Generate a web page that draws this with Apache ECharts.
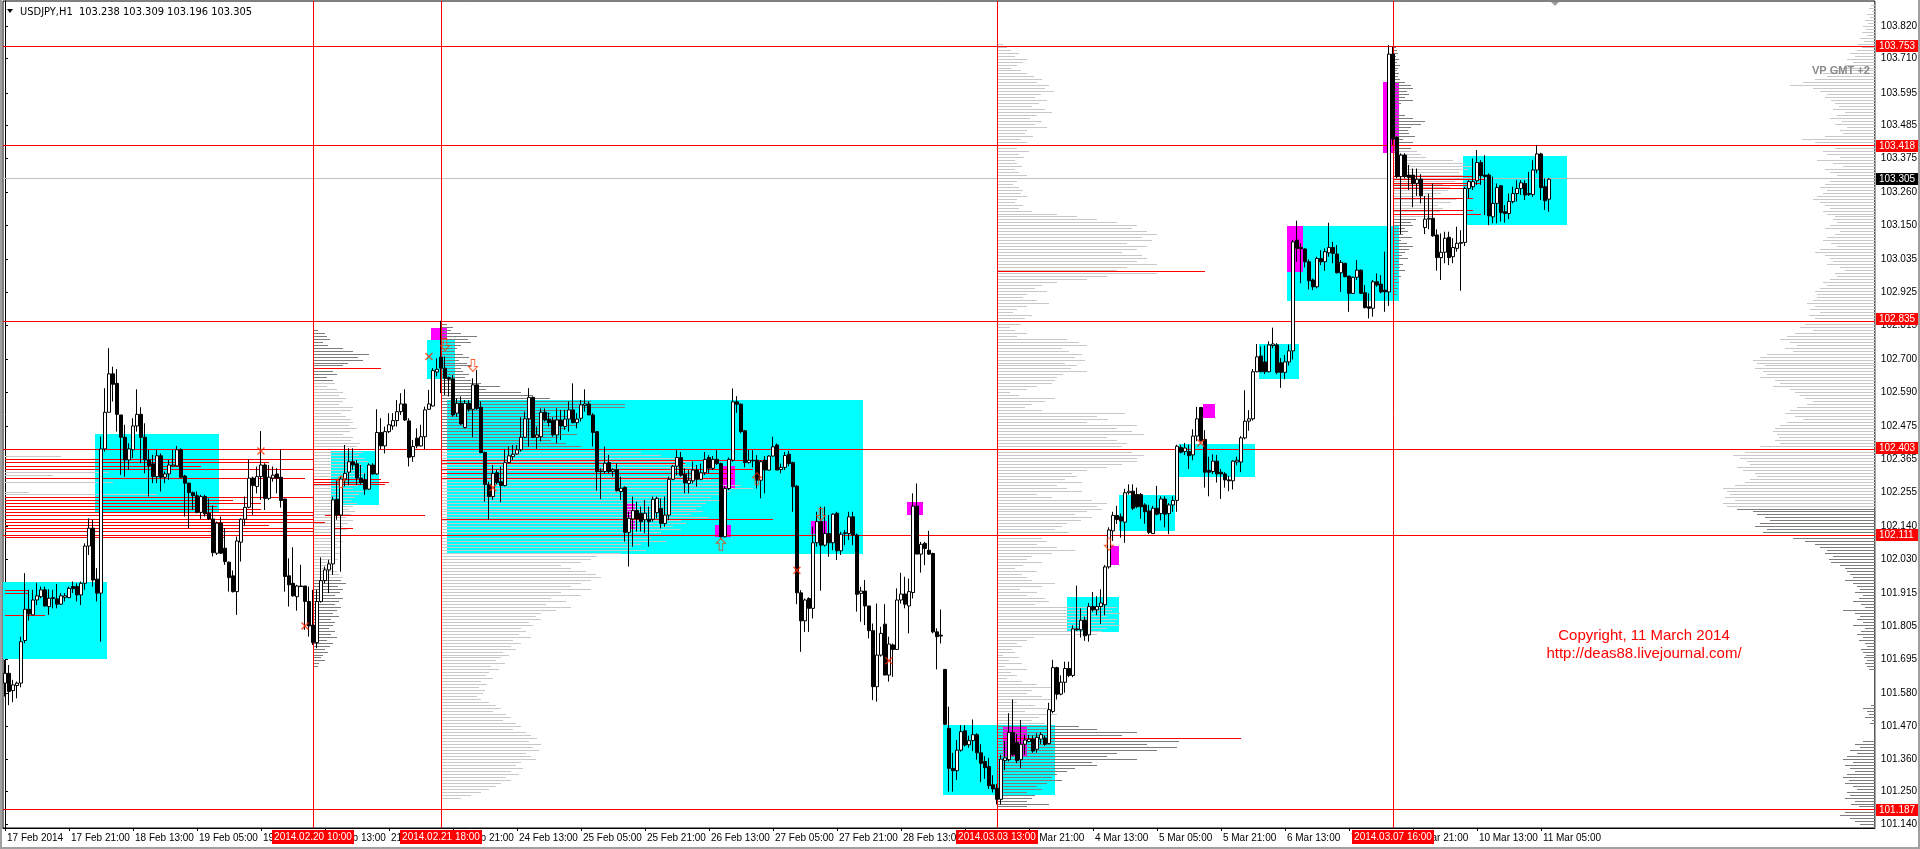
<!DOCTYPE html>
<html><head><meta charset="utf-8">
<script src="https://cdn.jsdelivr.net/npm/echarts@6/dist/echarts.min.js"></script>
<style>html,body{margin:0;padding:0;background:#fff;overflow:hidden}#c{width:1920px;height:849px}</style>
</head><body><div id="c"></div>
<script>
// ---------------- DATA ----------------
const symbolName = 'USDJPY,H1';
const lastOHLC = [103.238, 103.309, 103.196, 103.305];
const copyrightLines = ['Copyright, 11 March 2014', 'http://deas88.livejournal.com/'];
const vpCaption = 'VP GMT +2';
// trading weeks: [first bar time (GMT+2), number of H1 bars]
const weeks = [['2014-02-17T05:00', 115], ['2014-02-24T00:00', 120], ['2014-03-03T00:00', 120], ['2014-03-10T00:00', 32]];
const yTickValues = [103.820, 103.710, 103.595, 103.485, 103.375, 103.260, 103.150, 103.035, 102.925, 102.815, 102.700, 102.590, 102.475, 102.365, 102.255, 102.140, 102.030, 101.915, 101.805, 101.695, 101.580, 101.470, 101.360, 101.250, 101.140];
const levelLines = [103.753, 103.418, 102.835, 102.403, 102.111, 101.187];
const currentPrice = 103.305;
const timeLines = [77, 109, 248, 347]; // bar indices of vertical lines

// bars: [open, high, low, close]
const segA = [
[101.614,101.692,101.569,101.647],[101.647,101.675,101.540,101.586],[101.589,101.625,101.550,101.608],[101.606,101.619,101.563,101.614],[101.614,101.770,101.600,101.753],
[101.757,101.983,101.748,101.862],[101.862,101.927,101.824,101.846],[101.843,101.927,101.843,101.893],[101.893,101.951,101.876,101.907],[101.904,101.938,101.899,101.927],
[101.927,101.938,101.871,101.873],[101.871,101.929,101.843,101.899],[101.898,101.927,101.865,101.901],[101.897,101.947,101.865,101.879],[101.879,101.916,101.876,101.907],
[101.902,101.916,101.888,101.907],[101.901,101.938,101.899,101.932],[101.938,101.955,101.916,101.931],[101.938,101.949,101.888,101.910],[101.910,101.955,101.876,101.949],
[101.949,102.083,101.927,102.074],[102.074,102.167,102.044,102.134],[102.134,102.162,101.938,101.960],[101.963,102.000,101.888,101.916],[101.916,102.441,101.753,102.400],
[102.400,102.604,102.391,102.523],[102.523,102.738,102.523,102.652],[102.652,102.676,102.559,102.617],[102.620,102.668,102.458,102.516],[102.514,102.514,102.313,102.439],
[102.439,102.481,102.307,102.363],[102.363,102.419,102.330,102.400],[102.397,102.503,102.369,102.477],[102.477,102.600,102.458,102.516],[102.516,102.540,102.352,102.439],
[102.439,102.486,102.318,102.363],[102.363,102.397,102.240,102.343],[102.350,102.380,102.285,102.307],[102.307,102.397,102.285,102.377],[102.377,102.385,102.257,102.305],
[102.305,102.324,102.285,102.316],[102.316,102.363,102.296,102.346],[102.343,102.397,102.341,102.346],[102.343,102.410,102.341,102.397],[102.397,102.402,102.302,102.305],
[102.309,102.313,102.173,102.285],[102.285,102.287,102.134,102.253],[102.253,102.257,102.195,102.243],[102.243,102.257,102.184,102.187],[102.187,102.246,102.165,102.240],
[102.240,102.246,102.173,102.182],[102.184,102.234,102.162,102.165],[102.165,102.210,102.039,102.052],[102.050,102.156,102.044,102.151],[102.151,102.173,102.048,102.050],
[102.067,102.134,102.011,102.022],[102.020,102.022,101.921,101.968],[101.974,101.992,101.918,101.921],[101.921,102.106,101.843,102.091],[102.087,102.167,102.022,102.164],
[102.164,102.240,102.143,102.204],[102.204,102.365,102.201,102.302],[102.302,102.307,102.179,102.277],[102.274,102.341,102.251,102.307],[102.307,102.460,102.229,102.346],
[102.346,102.352,102.195,102.234],[102.234,102.346,102.229,102.305],[102.302,102.341,102.290,102.312],[102.316,102.335,102.251,102.302],[102.305,102.399,102.203,102.227],
[102.232,102.232,101.921,101.972],[101.974,102.033,101.871,101.944],[101.949,102.070,101.904,101.907],[101.904,101.944,101.857,101.940],[101.940,102.011,101.938,101.938],
[101.940,101.940,101.793,101.888],[101.888,101.938,101.770,101.806],[101.809,101.927,101.742,101.750],[101.750,101.927,101.731,101.888],[101.888,102.036,101.884,101.958],
[101.958,102.005,101.949,101.994],[101.994,102.028,101.916,102.014]];
const segB = [
[102.014,102.240,101.977,102.229],[102.231,102.296,102.162,102.178],[102.178,102.307,101.988,102.299],[102.299,102.413,102.274,102.318],[102.322,102.402,102.279,102.357],
[102.357,102.402,102.330,102.346],[102.350,102.363,102.279,102.302],[102.302,102.346,102.281,102.287],[102.296,102.318,102.246,102.265],[102.265,102.352,102.262,102.346],
[102.346,102.352,102.313,102.316],[102.316,102.533,102.313,102.455],[102.455,102.503,102.399,102.410],[102.410,102.475,102.385,102.458],[102.458,102.520,102.453,102.481],
[102.477,102.520,102.464,102.495],[102.495,102.564,102.475,102.525],[102.525,102.587,102.514,102.551],[102.551,102.600,102.494,102.497],[102.494,102.503,102.341,102.372],
[102.374,102.430,102.357,102.408],[102.436,102.469,102.402,102.410],[102.410,102.481,102.408,102.441],[102.441,102.542,102.399,102.531],[102.533,102.598,102.531,102.551],
[102.544,102.671,102.542,102.663],[102.658,102.704,102.643,102.667],[102.708,102.830,102.587,102.671],[102.671,102.710,102.581,102.637],[102.639,102.643,102.576,102.634],
[102.635,102.648,102.508,102.514],[102.520,102.570,102.508,102.553],[102.553,102.576,102.481,102.484],[102.472,102.564,102.469,102.553],[102.553,102.564,102.525,102.533],
[102.533,102.637,102.439,102.615],[102.615,102.665,102.531,102.536],[102.540,102.559,102.385,102.388],[102.388,102.391,102.223,102.281],[102.281,102.290,102.162,102.240],
[102.240,102.346,102.229,102.318],[102.320,102.330,102.281,102.287],[102.290,102.341,102.221,102.277],[102.277,102.397,102.274,102.354],[102.354,102.408,102.352,102.377],
[102.374,102.413,102.363,102.382],[102.383,102.413,102.380,102.397],[102.397,102.506,102.391,102.439],[102.439,102.525,102.436,102.501],[102.501,102.604,102.408,102.573],
[102.573,102.576,102.436,102.439],[102.439,102.475,102.399,102.447],[102.441,102.536,102.425,102.523],[102.523,102.536,102.492,102.497],[102.500,102.522,102.475,102.489],
[102.495,102.506,102.441,102.447],[102.447,102.536,102.419,102.497],[102.497,102.531,102.430,102.477],[102.475,102.531,102.464,102.500],[102.500,102.559,102.458,102.531],
[102.531,102.620,102.486,102.488],[102.488,102.520,102.469,102.500],[102.503,102.564,102.492,102.548],[102.546,102.600,102.525,102.551],[102.551,102.559,102.514,102.514],
[102.514,102.520,102.408,102.455],[102.458,102.458,102.260,102.324],[102.326,102.335,102.231,102.324],[102.324,102.408,102.318,102.352],[102.354,102.380,102.318,102.324],
[102.324,102.335,102.307,102.330],[102.330,102.352,102.257,102.260],[102.257,102.307,102.229,102.268],[102.271,102.274,102.089,102.120],[102.120,102.190,102.005,102.167],
[102.165,102.240,102.072,102.193],[102.193,102.223,102.123,102.165],[102.184,102.206,102.123,102.156],[102.162,102.229,102.117,102.184]];
const segC = [
[102.164,102.206,102.072,102.156],[102.164,102.240,102.156,102.231],[102.186,102.240,102.167,102.234],[102.200,102.234,102.133,102.150],[102.150,102.240,102.139,102.178],
[102.178,102.307,102.161,102.298],[102.298,102.346,102.295,102.342],[102.342,102.396,102.312,102.371],[102.371,102.390,102.307,102.312],[102.315,102.335,102.251,102.286],
[102.284,102.329,102.251,102.295],[102.293,102.357,102.284,102.329],[102.329,102.346,102.273,102.298],[102.298,102.351,102.295,102.320],[102.320,102.390,102.312,102.365],
[102.371,102.379,102.318,102.335],[102.335,102.376,102.329,102.365],[102.365,102.396,102.346,102.351],[102.351,102.354,102.103,102.105],[102.105,102.275,102.103,102.267],
[102.267,102.371,102.262,102.365],[102.362,102.603,102.357,102.558],[102.558,102.577,102.521,102.550],[102.550,102.553,102.452,102.458],[102.461,102.463,102.338,102.354],
[102.354,102.396,102.351,102.362],[102.360,102.396,102.338,102.362],[102.362,102.379,102.267,102.295],[102.295,102.362,102.234,102.357],[102.362,102.376,102.251,102.329],
[102.329,102.379,102.327,102.376],[102.376,102.441,102.374,102.407],[102.413,102.418,102.329,102.329],[102.331,102.351,102.318,102.338],[102.338,102.390,102.329,102.378],
[102.382,102.394,102.342,102.351],[102.354,102.357,102.189,102.273],[102.275,102.279,101.879,101.917],[101.917,101.926,101.719,101.823],[101.823,101.898,101.786,101.893],
[101.898,101.902,101.786,101.865],[101.865,102.139,101.831,102.085],[102.085,102.189,102.072,102.156],[102.156,102.206,101.924,102.077],[102.077,102.206,102.072,102.116],
[102.116,102.178,102.038,102.085],[102.085,102.184,102.060,102.181],[102.184,102.189,102.027,102.058],[102.058,102.122,102.044,102.114],[102.116,102.128,102.077,102.119],
[102.116,102.189,102.094,102.172],[102.172,102.189,102.077,102.111],[102.111,102.116,101.854,101.912],[101.915,101.937,101.820,101.923],[101.923,101.960,101.809,101.873],
[101.873,101.873,101.764,101.790],[101.790,101.814,101.557,101.602],[101.602,101.881,101.552,101.708],[101.708,101.803,101.703,101.781],[101.812,101.879,101.641,101.641],
[101.641,101.770,101.619,101.745],[101.742,101.747,101.635,101.727],[101.727,101.932,101.727,101.893],[101.893,101.984,101.881,101.913],[101.913,101.971,101.865,101.879],
[101.873,101.965,101.781,101.921],[101.918,102.251,101.898,102.208],[102.208,102.284,102.047,102.047],[102.047,102.088,101.985,102.080],[102.083,102.088,102.010,102.066],
[102.060,102.125,102.044,102.047],[102.049,102.052,101.781,101.786],[101.786,101.798,101.660,101.770],[101.775,101.861,101.747,101.772],[101.660,101.660,101.473,101.476],
[101.462,101.535,101.250,101.328],[101.328,101.380,101.250,101.320],[101.320,101.423,101.289,101.389],[101.389,101.473,101.384,101.451],[101.454,101.473,101.401,101.406]];
const segD = [
[101.407,101.438,101.397,101.421],[101.421,101.492,101.386,101.441],[101.441,101.446,101.357,101.380],[101.380,101.409,101.282,101.345],[101.351,101.369,101.293,101.330],
[101.334,101.363,101.259,101.270],[101.273,101.305,101.247,101.259],[101.261,101.276,101.207,101.224],[101.224,101.374,101.207,101.359],[101.354,101.420,101.322,101.363],
[101.357,101.513,101.351,101.449],[101.449,101.559,101.369,101.374],[101.415,101.444,101.345,101.354],[101.357,101.490,101.328,101.409],[101.409,101.441,101.374,101.423],
[101.418,101.441,101.415,101.426],[101.426,101.438,101.380,101.386],[101.392,101.446,101.380,101.432],[101.426,101.449,101.409,101.441],[101.430,101.438,101.403,101.409],
[101.411,101.548,101.409,101.525],[101.519,101.692,101.513,101.666],[101.666,101.669,101.559,101.577],[101.577,101.640,101.573,101.617],[101.617,101.686,101.582,101.663],
[101.663,101.686,101.634,101.640],[101.640,101.808,101.634,101.796],[101.796,101.941,101.790,101.793],[101.793,101.865,101.767,101.825],[101.825,101.837,101.756,101.773],
[101.776,101.883,101.753,101.871],[101.871,101.920,101.854,101.860],[101.860,101.906,101.842,101.871],[101.871,101.929,101.813,101.883],[101.877,102.010,101.842,102.004],
[102.004,102.137,101.998,102.128],[102.125,102.189,102.091,102.177],[102.177,102.209,102.148,102.163],[102.172,102.183,102.102,102.158],[102.154,102.266,102.085,102.253],
[102.253,102.281,102.247,102.258],[102.258,102.281,102.195,102.201],[102.247,102.270,102.201,102.206],[102.247,102.252,102.166,102.206],[102.212,102.218,102.149,102.189],
[102.192,102.212,102.114,102.120],[102.116,102.209,102.114,102.201],[102.201,102.276,102.177,102.181],[102.183,102.241,102.160,102.232],[102.232,102.241,102.137,102.181],
[102.183,102.218,102.114,102.212],[102.212,102.241,102.189,102.227],[102.227,102.414,102.189,102.409],[102.405,102.414,102.385,102.389],[102.391,102.420,102.380,102.403],
[102.391,102.414,102.333,102.377],[102.380,102.466,102.362,102.443],[102.443,102.541,102.426,102.501],[102.539,102.541,102.424,102.428],[102.432,102.463,102.270,102.322],
[102.328,102.374,102.241,102.322],[102.324,102.382,102.316,102.359],[102.359,102.380,102.287,102.316],[102.322,102.333,102.232,102.316],[102.316,102.322,102.270,102.296],
[102.296,102.310,102.258,102.293],[102.293,102.362,102.264,102.359],[102.356,102.374,102.345,102.362],[102.356,102.443,102.322,102.437],[102.437,102.597,102.432,102.493],
[102.493,102.530,102.461,102.501],[102.501,102.668,102.495,102.659],[102.659,102.752,102.657,102.709],[102.712,102.744,102.657,102.659],[102.692,102.747,102.651,102.659],
[102.659,102.761,102.657,102.749],[102.747,102.807,102.738,102.752],[102.749,102.755,102.651,102.657],[102.689,102.705,102.605,102.657],[102.657,102.715,102.634,102.692],
[102.692,102.750,102.680,102.729]];
const segE = [
[102.729,103.101,102.700,103.095],[103.101,103.166,103.028,103.073],[103.076,103.090,102.956,103.072],[103.071,103.073,103.009,103.028],[103.028,103.036,102.935,102.964],
[102.967,102.972,102.933,102.944],[102.944,103.045,102.939,103.039],[103.039,103.067,103.017,103.028],[103.028,103.073,102.998,103.062],[103.058,103.159,103.045,103.076],
[103.076,103.095,103.023,103.056],[103.054,103.084,102.989,102.991],[102.991,103.034,102.927,103.026],[103.023,103.023,102.976,102.978],[102.980,102.980,102.860,102.922],
[102.922,102.978,102.920,102.976],[102.976,103.034,102.967,103.000],[103.000,103.002,102.920,102.922],[102.924,102.950,102.872,102.874],[102.877,102.922,102.838,102.872],
[102.872,102.967,102.844,102.961],[102.961,102.989,102.944,102.950],[102.953,102.983,102.922,102.927],[102.933,103.062,102.860,102.927],[102.927,103.755,102.880,103.725],
[103.725,103.750,103.420,103.440],[103.446,103.448,103.308,103.314],[103.314,103.392,103.121,103.386],[103.386,103.392,103.308,103.314],[103.319,103.353,103.269,103.311],
[103.319,103.341,103.211,103.291],[103.291,103.341,103.249,103.305],[103.305,103.322,103.224,103.250],[103.143,103.249,103.121,103.171],[103.171,103.257,103.137,103.174],
[103.174,103.291,103.112,103.115],[103.118,103.137,102.998,103.042],[103.042,103.123,102.967,103.060],[103.060,103.129,103.023,103.107],[103.110,103.129,103.017,103.042],
[103.045,103.107,103.023,103.076],[103.073,103.146,103.062,103.090],[103.090,103.134,102.931,103.093],[103.093,103.280,103.081,103.274],[103.274,103.302,103.241,103.297],
[103.280,103.375,103.269,103.297],[103.300,103.403,103.286,103.361],[103.361,103.369,103.286,103.317],[103.319,103.386,103.185,103.314],[103.319,103.325,103.151,103.182],
[103.179,103.314,103.157,103.224],[103.224,103.291,103.157,103.277],[103.283,103.286,103.163,103.193],[103.196,103.218,103.159,103.190],[103.190,103.257,103.171,103.230],
[103.230,103.280,103.224,103.257],[103.257,103.302,103.230,103.274],[103.274,103.302,103.252,103.293],[103.291,103.302,103.235,103.252],[103.254,103.330,103.249,103.257],
[103.254,103.369,103.246,103.336],[103.336,103.420,103.325,103.390],[103.390,103.394,103.235,103.277],[103.280,103.308,103.202,103.233],[103.238,103.309,103.196,103.305]];

// rectangles: [fromBar, toBar, lowPrice, highPrice]
const cyanBoxes = [[0,25,101.695,101.955],[23,53,102.187,102.450],[82,93,102.212,102.393],[106,112,102.635,102.766],[111,214,102.049,102.564],[235,262,101.238,101.473],[266,278,101.787,101.904],[279,292,102.125,102.247],[294,312,102.307,102.417],[314,323,102.636,102.752],[321,348,102.897,103.148],[365,390,103.151,103.383]];
const magentaBoxes = [[107,110,102.766,102.805],[155,157,102.128,102.215],[180,182,102.267,102.342],[178,181,102.103,102.144],[202,205,102.114,102.159],[226,229,102.178,102.223],[250,255,101.369,101.467],[276,278,102.010,102.073],[300,302,102.504,102.551],[321,324,102.995,103.148],[345,348,103.392,103.632]];

// red level segments: [fromBar, toBar, price]
const redSegments = [[0,77,102.365],[0,66,102.355],[0,49,102.343],[0,77,102.332],[0,75,102.301],[0,77,102.238],[0,57,102.228],[0,64,102.218],[0,53,102.209],[0,64,102.197],[0,77,102.187],[0,77,102.177],[0,77,102.166],[0,80,102.155],[0,66,102.144],[0,77,102.133],[0,77,102.123],[0,55,102.106],[0,6,101.927],[0,6,101.916],[0,10,101.843],
[77,94,102.671],[77,94,102.299],[77,96,102.290],[77,95,102.283],[80,105,102.178],[82,87,102.134],
[109,190,102.363],[109,170,102.352],[109,187,102.332],[109,182,102.318],[109,182,102.301],[109,192,102.164],
[248,300,102.997],[248,309,101.429],
[347,367,103.316],[347,370,103.305],[347,369,103.294],[347,367,103.285],[347,365,103.274],[347,367,103.241],[347,367,103.202],[347,369,103.188]];
const graySegments = [[0,14,102.377],[0,26,102.321],[0,12,102.313],[0,27,102.290],[0,6,102.257],[0,38,102.248]];

// volume profiles (volume per 0.01 price step, from top price downward)
const vp1Vols = [5,12,14,17,10,15,30,40,56,45,50,35,30,68,20,24,14,20,22,14,24,30,26,33,30,26,40,38,28,33,38,40,36,44,37,30,40,38,47,44,57,50,46,52,55,48,50,44,53,49,47,52,45,40,50,46,42,38,44,40,36,42,38,33,40,35,30,34,28,32,26,30,24,28,22,27,20,25,22,18,20,24,26,30,28,33,25,30,27,22,30,26,22,28,24,20,26,18,22,20,16,22,18,24,14,20,17,12,15,10,8,12,6,5];
const vp2Vols = [3,6,12,10,20,36,27,30,20,16,14,22,28,18,26,30,20,22,28,24,30,40,59,45,80,92,109,150,184,184,130,110,132,120,115,136,125,120,136,118,110,125,140,180,200,220,240,250,245,255,260,250,262,270,280,300,312,290,285,270,278,265,260,255,262,250,268,240,245,232,240,220,230,210,225,200,190,205,180,156,150,140,120,130,145,155,160,150,140,130,150,120,140,110,125,105,130,115,100,95,100,88,92,80,85,78,90,72,80,70,75,62,68,60,55,64,50,58,48,45,52,40,46,38,44,42,36,40,48,55,60,52,65,70,62,75,80,72,85,90,96,88,100,92,98,85,90,95,80,75,82,70,78,65,70,60,55,48,40,30,20];
const vp3Vols = [6,10,14,22,18,30,26,20,14,24,30,37,45,40,52,48,57,44,38,50,42,35,48,55,40,33,45,38,50,30,28,36,24,30,26,20,32,22,27,18,20,25,18,22,30,24,20,16,22,26,24,30,20,18,26,22,35,60,80,100,120,140,135,150,160,145,155,130,150,140,125,145,150,140,160,130,120,160,110,90,60,45,38,50,30,26,40,52,30,20,16,35,28,45,24,13,18,30,20,70,82,90,65,72,85,78,88,68,80,74,90,66,60,58,55,40,30,13,22,58,48,35,28,45,128,100,111,90,140,120,135,147,110,120,130,125,140,135,147,140,140,125,110,90,75,80,68,85,60,70,85,40,55,95,110,100,105,90,78,95,84,70,65,58,72,50,45,50,40,60,78,55,35,30,45,26,18,40,25,30,35,58,45,23,40,30,48,52,38,120,115,123,110,120,118,122,110,105,100,37,30,20,25,15,18,6,22,12,25,8,30,14,20,10,25,40,61,35,30,45,55,20,38,50,28,60,42,35,48,82,100,140,125,175,182,150,180,160,120,110,140,95,100,78,70,60,55,65,50,40,45,30,38,35,30,52,30,13];
const vp4Vols = [3,4,5,3,6,4,7,5,4,6,5,7,12,18,20,14,16,12,20,8,4,6,5,12,20,32,28,18,15,16,22,10,20,28,18,24,28,33,60,72,80,75,66,70,55,62,50,57,55,48,40,63,58,45,50,47,55,40,23,18,20,12,15,10,19,8,14,20,16,12,9,15,6,10,7,12,5,8,4,6,3,5,3,4];
const vpRightVols = [4,6,3,8,5,10,7,12,9,13,8,15,11,17,13,18,25,20,28,22,30,38,45,52,48,60,72,85,62,55,48,50,44,40,36,42,30,38,45,33,40,28,35,32,50,73,60,45,40,52,48,35,58,42,32,50,45,38,55,45,50,55,48,52,58,62,55,50,45,52,48,40,42,38,45,50,35,40,48,52,44,38,55,60,50,45,42,48,35,30,40,38,45,52,48,55,60,58,58,62,68,60,65,55,66,60,64,70,75,62,80,88,95,85,78,90,82,108,115,122,118,110,120,112,108,115,100,95,102,85,80,75,70,62,68,78,85,90,80,72,88,95,100,102,98,96,100,95,115,122,130,142,135,128,125,138,132,120,118,125,130,140,152,148,145,150,140,152,148,138,122,118,110,105,115,120,108,112,118,82,70,60,55,48,50,42,46,44,35,30,28,25,22,30,22,18,15,20,12,16,22,14,10,32,20,15,18,12,22,10,14,18,12,16,10,8,14,12,9,11,8,10,8,6,0,0,0,0,0,0,0,0,0,0,0,4,12,8,6,10,3,5,0,0,0,0,0,12,20,15,25,18,28,32,22,30,25,20,28,32,26,30,22,18,28,25,30,20,24,16,22,30,35,25,20,15,12];
// [anchor bar, top price, value-area low, value-area high, direction]
const vpAnchors = [[77,102.80,101.965,102.625,1],[109,102.83,101.0,102.405,1],[248,103.76,101.475,104.0,1],[347,103.75,103.175,103.405,1],[467.5,103.89,102.205,104.0,-1]];

// signal markers: [bar, price]
const crossMarks = [[64,102.393],[75,101.806],[106,102.71],[122,102.27],[198,101.993],[221,101.689],[299,102.42]];
const downArrows = [[110,102.75],[117,102.68],[204,102.18],[276,102.08]];
const upArrows = [[84,102.29],[179,102.08],[188,102.30]];

// ---------------- BUILD ----------------
const N_SLOTS = 468, LABEL_EVERY = 16, PRICE_STEP = 0.01, VOL_TO_BARS = 0.25;
const AXIS_FONT = "'Liberation Sans', Arial, sans-serif";
const TITLE_FONT = "'DejaVu Sans Condensed','Liberation Sans',sans-serif";
const bars = [].concat(segA, segB, segC, segD, segE);
const candleData = bars.map(b => [b[0], b[3], b[2], b[1]]);
const MON = ['Jan','Feb','Mar','Apr','May','Jun','Jul','Aug','Sep','Oct','Nov','Dec'];
const times = [];
weeks.forEach(([s, n]) => { const t0 = Date.parse(s + ':00Z'); for (let k = 0; k < n; k++) times.push(new Date(t0 + k * 3600000)); });
const p2 = n => String(n).padStart(2, '0');
function axisText(i) {
  const d = times[i]; if (!d) return '';
  if (i === 0) return d.getUTCDate() + ' ' + MON[d.getUTCMonth()] + ' ' + d.getUTCFullYear();
  return d.getUTCDate() + ' ' + MON[d.getUTCMonth()] + ' ' + p2(d.getUTCHours()) + ':00';
}
function fullText(i) {
  const d = times[i];
  return d.getUTCFullYear() + '.' + p2(d.getUTCMonth() + 1) + '.' + p2(d.getUTCDate()) + ' ' + p2(d.getUTCHours()) + ':' + p2(d.getUTCMinutes());
}
const cats = Array.from({length: N_SLOTS}, (_, i) => String(i));
const showAt = i => i % LABEL_EVERY === 0 && i < bars.length;

const vpData = [];
[vp1Vols, vp2Vols, vp3Vols, vp4Vols, vpRightVols].forEach((vols, k) => {
  const [anchor, top, vaLo, vaHi, dir] = vpAnchors[k];
  vols.forEach((v, j) => {
    if (!v) return;
    const p = +(top - j * PRICE_STEP).toFixed(3);
    const dark = (p < vaLo || p > vaHi) ? 1 : 0;
    vpData.push([anchor, p, v, dark, dir]);
  });
});

function boxRender(color) {
  return function (params, api) {
    const a = api.coord([api.value(0), api.value(3)]);
    const b = api.coord([api.value(1), api.value(2)]);
    const half = api.size([1, 0])[0] / 2;
    const x = Math.round(a[0] - half), x2 = Math.round(b[0] + half);
    const y = Math.round(a[1]), y2 = Math.round(b[1]);
    return {type: 'rect', shape: {x: x, y: y, width: x2 - x, height: y2 - y}, style: {fill: color}};
  };
}
function segRender(color) {
  return function (params, api) {
    const a = api.coord([api.value(0), api.value(2)]);
    const b = api.coord([api.value(1), api.value(2)]);
    const y = Math.round(a[1]) + 0.5;
    return {type: 'line', shape: {x1: Math.round(a[0]), y1: y, x2: Math.round(b[0]), y2: y}, style: {stroke: color, lineWidth: 1}};
  };
}
function vpRender(params, api) {
  const a = api.coord([api.value(0), api.value(1)]);
  const w = api.size([1, 0])[0];
  const len = api.value(2) * VOL_TO_BARS * w * api.value(4);
  const y = Math.round(a[1]) + 0.5;
  return {type: 'line', shape: {x1: Math.round(a[0]), y1: y, x2: Math.round(a[0] + len), y2: y},
          style: {stroke: api.value(3) ? '#7c7c7c' : '#c8c8c8', lineWidth: 1}};
}

const crossPath = 'path://M0,1 L1,0 L4,3 L7,0 L8,1 L5,4 L8,7 L7,8 L4,5 L1,8 L0,7 L3,4 Z';
const downPath = 'path://M3,0 L7,0 L7,7 L10,7 L5,12 L0,7 L3,7 Z';
const upPath = 'path://M5,0 L10,5 L7,5 L7,12 L3,12 L3,5 L0,5 Z';

const chart = echarts.init(document.getElementById('c'), null, {renderer: 'canvas'});
const option = {
  animation: false,
  backgroundColor: '#ffffff',
  grid: {left: 3, right: 45, top: 1, bottom: 21, show: true, borderColor: '#000', borderWidth: 1, backgroundColor: '#fff'},
  xAxis: [{
    type: 'category', data: cats, boundaryGap: true,
    axisLine: {show: true, lineStyle: {color: '#000', width: 1}},
    axisTick: {show: true, alignWithLabel: true, interval: showAt, length: 3, lineStyle: {color: '#000'}},
    axisLabel: {show: true, interval: showAt, formatter: (v, i) => axisText(+v), align: 'left', padding: [0, 0, 0, 2], margin: 5,
      color: '#000', fontSize: 10, fontFamily: AXIS_FONT},
    splitLine: {show: false}
  }, {
    type: 'value', min: -0.5, max: N_SLOTS - 0.5, show: false, splitLine: {show: false}
  }],
  yAxis: [{
    type: 'value', position: 'right', min: 101.1278, max: 103.9032, scale: true,
    axisLine: {show: true, lineStyle: {color: '#000'}},
    axisTick: {show: true, customValues: yTickValues, length: 3, lineStyle: {color: '#000'}},
    axisLabel: {show: true, customValues: yTickValues, formatter: v => v.toFixed(3), margin: 6, color: '#000', fontSize: 10, fontFamily: AXIS_FONT},
    splitLine: {show: false}
  }],
  series: [
    {type: 'custom', name: 'zones', xAxisIndex: 1, yAxisIndex: 0, z: 1, silent: true, renderItem: boxRender('#00ffff'),
     encode: {x: [0, 1], y: [2, 3]}, data: cyanBoxes},
    {type: 'custom', name: 'signals', xAxisIndex: 1, yAxisIndex: 0, z: 2, silent: true, renderItem: boxRender('#ff00ff'),
     encode: {x: [0, 1], y: [2, 3]}, data: magentaBoxes},
    {type: 'custom', name: 'profiles', xAxisIndex: 1, yAxisIndex: 0, z: 3, silent: true, renderItem: vpRender,
     encode: {x: 0, y: 1}, data: vpData},
    {type: 'custom', name: 'grayLevels', xAxisIndex: 1, yAxisIndex: 0, z: 3, silent: true, renderItem: segRender('#c8c8c8'),
     encode: {x: [0, 1], y: 2}, data: graySegments},
    {type: 'custom', name: 'levels', xAxisIndex: 1, yAxisIndex: 0, z: 4, silent: true, renderItem: segRender('#ff0000'),
     encode: {x: [0, 1], y: 2}, data: redSegments,
     markLine: {silent: true, symbol: 'none', animation: false, label: {show: false},
       data: [{yAxis: currentPrice, lineStyle: {color: '#c0c0c0', type: 'solid', width: 1}}]
         .concat(levelLines.map(p => ({yAxis: p, lineStyle: {color: '#ff0000', type: 'solid', width: 1}})))
         .concat(timeLines.map(i => ({xAxis: i, lineStyle: {color: '#ff0000', type: 'solid', width: 1}})))}},
    {type: 'candlestick', name: symbolName, xAxisIndex: 0, yAxisIndex: 0, z: 5, silent: true, large: false,
     barWidth: 3, data: candleData,
     itemStyle: {color: '#ffffff', color0: '#000000', borderColor: '#000000', borderColor0: '#000000', borderColorDoji: '#000000', borderWidth: 1}},
    {type: 'scatter', name: 'marks', xAxisIndex: 1, yAxisIndex: 0, z: 6, silent: true,
     data: crossMarks.map(d => ({value: d, symbol: crossPath, symbolSize: [8, 8], itemStyle: {color: '#ff2a00'}}))
       .concat(downArrows.map(d => ({value: d, symbol: downPath, symbolSize: [9, 12], itemStyle: {color: 'rgba(255,255,255,0)', borderColor: '#ff3300', borderWidth: 1}})))
       .concat(upArrows.map(d => ({value: d, symbol: upPath, symbolSize: [9, 12], itemStyle: {color: 'rgba(255,255,255,0)', borderColor: '#ff3300', borderWidth: 1}})))}
  ]
};
chart.setOption(option);

// boxed labels positioned through the chart's own scales
const gfx = [
  {type: 'rect', shape: {x: 0, y: 0, width: 2, height: 849}, style: {fill: '#a0a0a0'}, z: 100},
  {type: 'rect', shape: {x: 1918, y: 0, width: 2, height: 849}, style: {fill: '#a0a0a0'}, z: 100},
  {type: 'rect', shape: {x: 0, y: 847, width: 1920, height: 2}, style: {fill: '#a0a0a0'}, z: 100},
  {type: 'polygon', shape: {points: [[7, 9], [13, 9], [10, 13]]}, style: {fill: '#000'}, z: 100},
  {type: 'text', x: 20, y: 12, style: {text: symbolName + '  ' + lastOHLC.map(v => v.toFixed(3)).join(' '), fill: '#000', font: '11px ' + TITLE_FONT, verticalAlign: 'middle'}, z: 100},
  {type: 'polygon', shape: {points: [[1551, 2], [1559, 2], [1555, 6]]}, style: {fill: '#a0a0a0'}, z: 100},
  {type: 'text', x: 1812, y: 71, style: {text: vpCaption, fill: '#8a8a8a', font: 'bold 11px "Liberation Sans", sans-serif', verticalAlign: 'middle'}, z: 100},
  {type: 'text', x: 1644, y: 636, style: {text: copyrightLines[0], fill: '#ff0000', font: '15px "Liberation Sans", Arial, sans-serif', align: 'center', verticalAlign: 'middle'}, z: 100},
  {type: 'text', x: 1644, y: 654, style: {text: copyrightLines[1], fill: '#ff0000', font: '15px "Liberation Sans", Arial, sans-serif', align: 'center', verticalAlign: 'middle'}, z: 100}
];
function rightTag(p, bg) {
  const y = Math.round(chart.convertToPixel({yAxisIndex: 0}, p));
  gfx.push({type: 'rect', shape: {x: 1876, y: y - 6, width: 42, height: 12}, style: {fill: bg}, z: 101});
  gfx.push({type: 'text', x: 1879, y: y, style: {text: p.toFixed(3), fill: '#fff', font: '10px ' + AXIS_FONT, verticalAlign: 'middle'}, z: 102});
}
levelLines.forEach(p => rightTag(p, '#ff0000'));
rightTag(currentPrice, '#000000');
timeLines.forEach(i => {
  const x = Math.round(chart.convertToPixel({xAxisIndex: 1}, i));
  gfx.push({type: 'rect', shape: {x: x - 41, y: 830, width: 82, height: 14}, style: {fill: '#ff0000'}, z: 101});
  gfx.push({type: 'text', x: x, y: 837, style: {text: fullText(i), fill: '#fff', font: '10px ' + AXIS_FONT, align: 'center', verticalAlign: 'middle'}, z: 102});
});
chart.setOption({graphic: gfx});
</script></body></html>
